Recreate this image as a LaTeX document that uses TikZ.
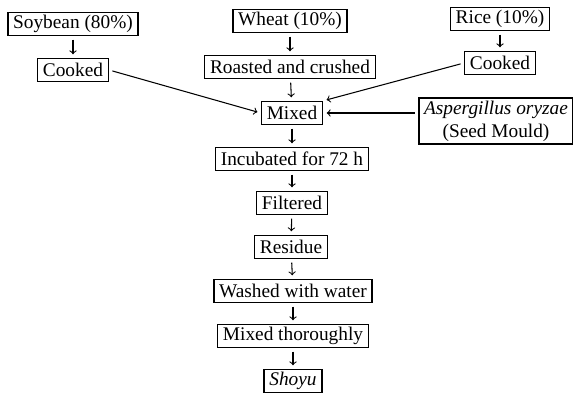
\documentclass[tikz,border=0pt]{standalone}
\usepackage{fontspec}
\setmainfont{Liberation Serif}

\begin{document}
\begin{tikzpicture}[
  x=0.02cm, y=-0.02cm, % one unit = one pixel of the layout
  box/.style={rectangle, draw=black, line width=0.8pt, inner xsep=3pt, inner ysep=1.5pt, minimum height=0.46cm, text=black, font=\fontsize{11}{13}\selectfont},
  flow/.style={->, line width=0.6pt, shorten <=2pt, shorten >=2pt}
]
\useasboundingbox (0,0) rectangle (573,394);

% Raw materials
\node[box] (soy)   at (73,24)  {Soybean (80\%)};
\node[box] (wheat) at (290,21) {Wheat (10\%)};
\node[box] (rice)  at (500,19) {Rice (10\%)};

% Treatment
\node[box] (cookL)   at (73,70)  {Cooked};
\node[box] (roasted) at (290,67) {Roasted and crushed};
\node[box] (cookR)   at (500,63) {Cooked};

% Mixing
\node[box] (mixed) at (292,113) {Mixed};
\node[box, align=center] (mould) at (496,121) {\textit{Aspergillus oryzae}\\(Seed Mould)};

% Main line
\node[box] (incub)   at (292,159) {Incubated for 72 h};
\node[box] (filter)  at (292,203) {Filtered};
\node[box] (residue) at (291,247) {Residue};
\node[box] (washed)  at (293,291) {Washed with water};
\node[box] (thorough) at (293,336) {Mixed thoroughly};
\node[box] (shoyu)   at (293,381) {\textit{Shoyu}};

% Arrows
\draw[flow] (soy) -- (cookL);
\draw[flow] (wheat) -- (roasted);
\draw[flow] (rice) -- (cookR);
\draw[flow] (roasted) -- (mixed);
\draw[flow] (cookL.east) -- (mixed.west);
\draw[flow] (cookR.west) -- (mixed.north east);
\draw[flow] (mould.west |- mixed.east) -- (mixed.east);
\draw[flow] (mixed) -- (incub);
\draw[flow] (incub) -- (filter);
\draw[flow] (filter) -- (residue);
\draw[flow] (residue) -- (washed);
\draw[flow] (washed) -- (thorough);
\draw[flow] (thorough) -- (shoyu);

\end{tikzpicture}
\end{document}
